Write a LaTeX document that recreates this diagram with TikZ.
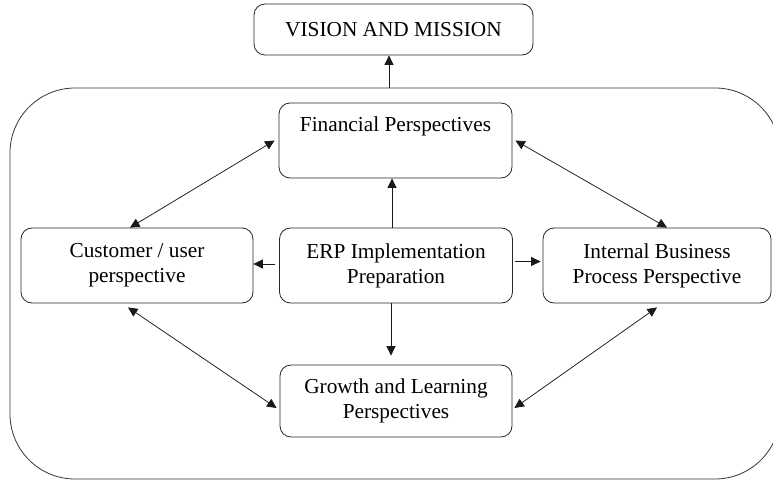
\documentclass[tikz,border=0pt]{standalone}
\usepackage{fontspec}
\setmainfont{Liberation Serif}
\usetikzlibrary{arrows.meta}

\tikzset{
  box/.style={draw=black!85, line width=0.8pt, rounded corners=11pt,
    align=center, inner sep=0pt, text=black,
    font=\fontsize{21.3}{25}\selectfont},
  frame/.style={draw=black!80, line width=0.8pt, rounded corners=65pt},
  arr/.style={draw=black!90, line width=0.75pt, -{Triangle[length=9.5pt,width=9pt]}},
  darr/.style={draw=black!90, line width=0.75pt,
    {Triangle[length=9.5pt,width=9pt]}-{Triangle[length=9.5pt,width=9pt]}}
}

\begin{document}
\begin{tikzpicture}[x=1pt,y=1pt]
  \useasboundingbox (0,0) rectangle (773,480);
  \clip (0,0) rectangle (773,480);

  % enclosing frame of the scorecard
  \draw[frame] (10,1) rectangle (780,392);
  \coordinate (frametop) at (389,392);

  % boxes
  \node[box, minimum width=279pt, minimum height=51pt] (vision) at (393.5,450.5)
    {VISION AND MISSION};
  \node[box, minimum width=233pt, minimum height=75pt] (fin) at (395.5,339.5)
    {Financial Perspectives\\\strut};
  \node[box, minimum width=232pt, minimum height=75pt] (cust) at (137,214.5)
    {Customer / user\\perspective};
  \node[box, minimum width=233pt, minimum height=75pt] (erp) at (396,214.5)
    {ERP Implementation\\Preparation};
  \node[box, minimum width=228pt, minimum height=75pt] (int) at (657,214.5)
    {Internal Business\\Process Perspective};
  \node[box, minimum width=232pt, minimum height=72pt] (growth) at (396,79)
    {Growth and Learning\\Perspectives};

  % straight connectors from the centre box
  \draw[arr] (frametop) -- (frametop |- vision.south);
  \draw[arr] ([xshift=-4pt]erp.north) -- ([xshift=-4pt]erp.north |- fin.south);
  \draw[arr] ([xshift=-4pt,yshift=1.5pt]erp.west) -- ([yshift=1.5pt]cust.east);
  \draw[arr] ([xshift=2pt,yshift=4pt]erp.east) -- ([xshift=-2pt,yshift=4pt]erp.east -| int.west);
  \draw[arr, shorten >=9pt] ([xshift=-5pt]erp.south) -- ([xshift=-5pt]erp.south |- growth.north);

  % two-way links around the ring
  \draw[darr] ([xshift=-7pt]cust.north) -- ([xshift=-4pt]fin.west);
  \draw[darr] ([xshift=3pt]fin.east) -- ([xshift=10pt]int.north);
  \draw[darr] ([xshift=-9pt,yshift=-4pt]cust.south) -- ([xshift=-3pt,yshift=-7pt]growth.west);
  \draw[darr] ([yshift=-4pt]int.south) -- ([xshift=2pt,yshift=-7pt]growth.east);
\end{tikzpicture}
\end{document}
